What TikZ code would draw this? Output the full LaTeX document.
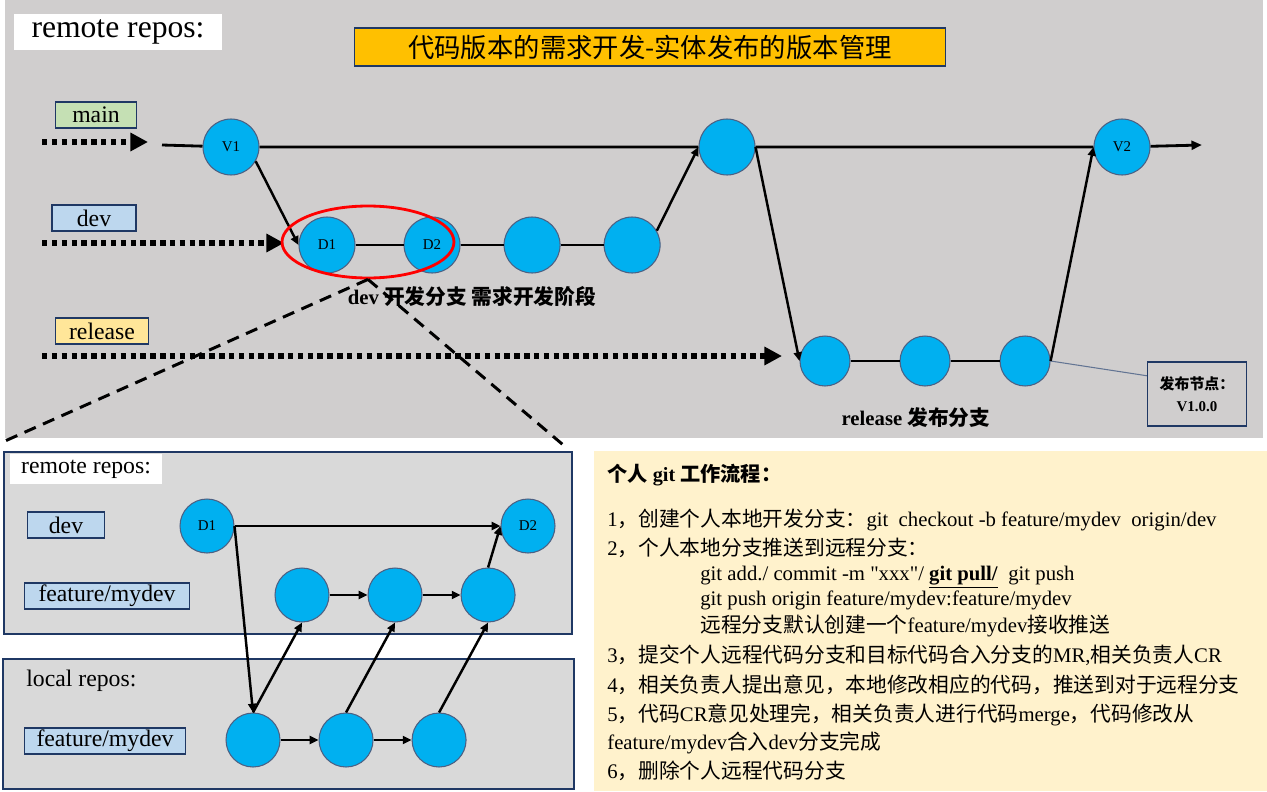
\documentclass[tikz,border=0pt]{standalone}
\usepackage{fontspec}
\setmainfont{Liberation Serif}[Ligatures=TeXOff]
\newfontfamily\cjk{Noto Sans CJK SC}
\newcommand{\zh}[1]{{\cjk #1}}
\usepackage{tikz}
\usetikzlibrary{arrows.meta,positioning,shapes.geometric}

\definecolor{bgtop}{RGB}{208,206,206}
\definecolor{bgpanel}{RGB}{217,217,217}
\definecolor{commitblue}{RGB}{0,176,240}
\definecolor{navy}{RGB}{31,56,100}
\definecolor{tagblue}{RGB}{189,215,238}
\definecolor{taggreen}{RGB}{197,224,180}
\definecolor{tagyellow}{RGB}{255,230,153}
\definecolor{titleorange}{RGB}{255,192,0}
\definecolor{notepaper}{RGB}{255,242,204}

\begin{document}
\begin{tikzpicture}[x=0.02cm, y=-0.02cm,
    commit/.style={circle, draw=navy!80, line width=0.6pt, fill=commitblue, minimum size=1.12cm, inner sep=0pt, font=\fontsize{8.5}{10}\selectfont},
    branchtag/.style={draw=navy, line width=0.7pt, minimum height=0.52cm, inner sep=0pt, font=\fontsize{13.5}{15}\selectfont},
    feed/.style={line width=3pt, dash pattern=on 3.1pt off 2.5pt, -{Triangle[length=10pt,width=10pt]}},
    flow/.style={line width=1.4pt, -{Triangle[length=5pt,width=4.5pt]}},
    link/.style={line width=1.6pt},
    zoomline/.style={line width=1.7pt, dash pattern=on 7pt off 4.5pt},
    panel/.style={fill=bgpanel, draw=navy, line width=0.7pt},
    note/.style={anchor=west, inner sep=0pt, font=\fontsize{11.8}{13}\selectfont}]
    \useasboundingbox (0,0) rectangle (1267,791);

    % Backgrounds
    \fill[bgtop] (5,0) rectangle (1263,438);
    \filldraw[panel] (4,452) rectangle (572,634);
    \filldraw[panel] (3,659) rectangle (574,789);
    \fill[notepaper] (594,451) rectangle (1267,791);

    % Headings and branch tags (top)
    \node[fill=white, minimum width=4.16cm, minimum height=0.72cm, font=\fontsize{18}{20}\selectfont] (toprepo) at (118,32) {remote repos:};
    \node[draw=navy, fill=titleorange, line width=0.7pt, minimum width=11.82cm, minimum height=0.76cm, font={\cjk\fontsize{15}{18}\selectfont}] (title) at (650,47) {代码版本的需求开发-实体发布的版本管理};
    \node[branchtag, fill=taggreen, minimum width=1.62cm] (maintag) at (96,115) {main};
    \node[branchtag, fill=tagblue, minimum width=1.68cm] (devtag) at (94,218) {dev};
    \node[branchtag, fill=tagyellow, minimum width=1.86cm] (reltag) at (102,331) {release};

    % Incoming dotted branches
    \coordinate (mainin) at (42,142);
    \coordinate (mainhead) at (148,142);
    \coordinate (devin) at (42,243);
    \coordinate (devhead) at (284,243);
    \coordinate (relin) at (42,356);
    \coordinate (relhead) at (782,356);
    \draw[feed] (mainin) -- (mainhead);
    \draw[feed] (devin) -- (devhead);
    \draw[feed] (relin) -- (relhead);

    % main
    \node[commit] (v1) at (231,147) {V1};
    \node[commit] (m2) at (727,147) {};
    \node[commit] (v2) at (1122,147) {V2};
    \coordinate (mainstart) at (162,145);
    \coordinate (mainend) at (1202,145);
    \draw[link] (mainstart) -- (v1) -- (m2) -- (v2);
    \draw[link, -{Triangle[length=6pt,width=5pt]}] (v2) -- (mainend);

    % dev
    \node[commit] (d1) at (327,245) {D1};
    \node[commit, right=0.96cm of d1] (d2) {D2};
    \node[commit, right=0.86cm of d2] (d3) {};
    \node[commit, right=0.86cm of d3] (d4) {};
    \draw[link] (d1) -- (d2) -- (d3) -- (d4);

    % release
    \node[commit, minimum size=1cm] (r1) at (825,361) {};
    \node[commit, minimum size=1cm, right=0.98cm of r1] (r2) {};
    \node[commit, minimum size=1cm, right=0.98cm of r2] (r3) {};
    \draw[link] (r1) -- (r2) -- (r3);
    \node[draw=navy, line width=0.7pt, minimum width=1.98cm, minimum height=1.28cm, align=center, font=\bfseries\fontsize{8.5}{12.5}\selectfont] (relnote) at (1197,394) {\zh{发布节点：}\\V1.0.0};
    \draw[navy!70, line width=0.6pt] (r3.east) -- (relnote.160);

    % merges between branches
    \draw[flow] (v1.-30) -- (d1.west);
    \draw[flow] (d4.30) -- (m2.west);
    \draw[flow] (m2.east) -- (r1.west);
    \draw[flow] (r3.east) -- (v2.west);

    % captions
    \node[font=\bfseries\fontsize{11.8}{13}\selectfont] (devcap) at (472,297) {dev \zh{开发分支 需求开发阶段}};
    \node[font=\bfseries\fontsize{11.8}{13}\selectfont] (relcap) at (916,418) {release \zh{发布分支}};

    % focus ring and zoom lines
    \node[ellipse, draw=red, line width=1.6pt, minimum width=3.44cm, minimum height=1.44cm] (focus) at (368,242) {};
    \coordinate (zoomL) at (5,441);
    \coordinate (zoomR) at (568,449);
    \draw[zoomline] (focus.south) -- (zoomL);
    \draw[zoomline] (focus.south) -- (zoomR);

    % Bottom panels: remote / local
    \node[fill=white, minimum width=3.04cm, minimum height=0.54cm, font=\fontsize{13.5}{15}\selectfont] (remrepo) at (86,469) {remote repos:};
    \node[anchor=west, inner sep=0pt, font=\fontsize{13.5}{15}\selectfont] (locrepo) at (26,681) {local repos:};
    \node[branchtag, fill=tagblue, minimum width=1.54cm] (bdevtag) at (66,525) {dev};
    \node[branchtag, fill=tagblue, minimum width=3.3cm] (rfeattag) at (107,596) {feature/mydev};
    \node[branchtag, fill=tagblue, minimum width=3.22cm] (lfeattag) at (105,741) {feature/mydev};

    \node[commit, minimum size=1.08cm] (bd1) at (207,526) {D1};
    \node[commit, minimum size=1.08cm] (bd2) at (528,526) {D2};
    \node[commit, minimum size=1.08cm] (f1) at (302,595) {};
    \node[commit, minimum size=1.08cm, right=0.76cm of f1] (f2) {};
    \node[commit, minimum size=1.08cm, right=0.76cm of f2] (f3) {};
    \node[commit, minimum size=1.08cm] (l1) at (253,740) {};
    \node[commit, minimum size=1.08cm, right=0.76cm of l1] (l2) {};
    \node[commit, minimum size=1.08cm, right=0.76cm of l2] (l3) {};

    \draw[flow] (bd1.east) -- (bd2.west);
    \draw[flow] (bd1.east) -- (l1.north);
    \draw[flow] (l1.north) -- (f1.south);
    \draw[flow] (l2.north) -- (f2.south);
    \draw[flow] (l3.north) -- (f3.south);
    \draw[flow] (f1) -- (f2);
    \draw[flow] (f2) -- (f3);
    \draw[flow] (f3.north) -- (bd2.west);
    \draw[flow] (l1) -- (l2);
    \draw[flow] (l2) -- (l3);

    % Personal workflow notes
    \node[note, font=\bfseries\fontsize{11.5}{13}\selectfont] (howto) at (607,475) {\zh{个人} git \zh{工作流程：}};
    \node[note] (s1) at (607,520) {1\zh{，创建个人本地开发分支：}git\ \ checkout -b feature/mydev\ \ origin/dev};
    \node[note] (s2) at (607,548) {2\zh{，个人本地分支推送到远程分支：}};
    \node[note] (s2a) at (700,577) {git add./ commit -m "xxx"/ \underline{\textbf{git pull/}}\ \ git push};
    \node[note] (s2b) at (700,600) {git push origin feature/mydev:feature/mydev};
    \node[note] (s2c) at (700,626) {\zh{远程分支默认创建一个}feature/mydev\zh{接收推送}};
    \node[note] (s3) at (607,655) {3\zh{，提交个人远程代码分支和目标代码合入分支的}MR,\zh{相关负责人}CR};
    \node[note] (s4) at (607,685) {4\zh{，相关负责人提出意见，本地修改相应的代码，推送到对于远程分支}};
    \node[note] (s5) at (607,715) {5\zh{，代码}CR\zh{意见处理完，相关负责人进行代码}merge\zh{，代码修改从}};
    \node[note] (s5b) at (607,743) {feature/mydev\zh{合入}dev\zh{分支完成}};
    \node[note] (s6) at (607,771) {6\zh{，删除个人远程代码分支}};
\end{tikzpicture}
\end{document}
